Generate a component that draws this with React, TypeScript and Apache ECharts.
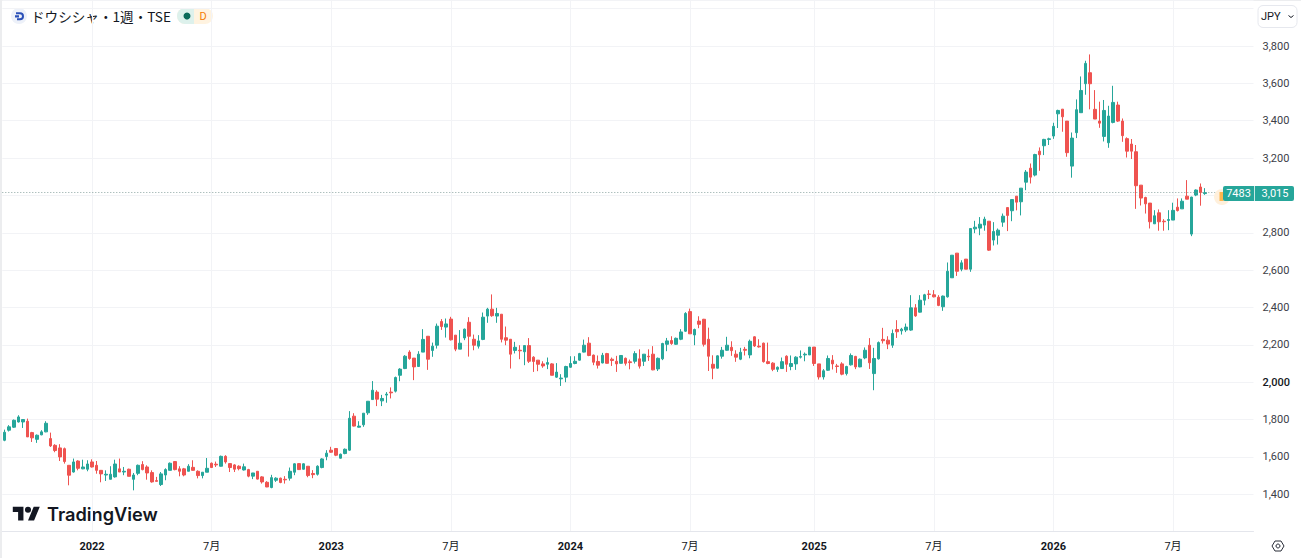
import React, { useEffect, useRef } from "react";
import * as echarts from "echarts";

// Each candle: [open, close, low, high]
const candles2021 = [
  [1689,1732,1684,1746],[1743,1761,1736,1770],[1759,1796,1755,1800],[1787,1814,1784,1823],[1787,1800,1755,1800],
  [1791,1707,1707,1805],[1730,1702,1680,1734],[1694,1716,1675,1720],[1718,1734,1716,1743],[1734,1780,1732,1791],
  [1698,1659,1653,1730],[1662,1634,1625,1668],[1648,1600,1578,1668],[1644,1575,1564,1650],[1555,1502,1448,1555],
  [1519,1573,1516,1591],[1578,1539,1528,1582],[1536,1546,1534,1585],[1534,1562,1523,1582],
];
const candles2022 = [
  [1573,1546,1543,1587],[1555,1528,1510,1578],[1528,1509,1464,1528],[1503,1507,1471,1528],[1480,1507,1480,1550],
  [1493,1562,1489,1585],[1536,1519,1519,1591],[1519,1523,1502,1546],[1534,1496,1496,1537],[1480,1503,1421,1514],
  [1512,1555,1502,1559],[1559,1532,1528,1577],[1546,1514,1478,1555],[1516,1466,1462,1528],[1473,1469,1468,1493],
  [1452,1509,1444,1519],[1503,1532,1475,1539],[1528,1566,1528,1570],[1575,1532,1528,1578],[1536,1523,1496,1550],
  [1536,1503,1496,1541],[1523,1550,1523,1561],[1544,1528,1527,1582],[1523,1500,1485,1528],[1500,1518,1485,1519],
  [1518,1539,1518,1594],[1566,1543,1541,1570],[1561,1557,1546,1575],[1550,1603,1548,1607],[1603,1573,1564,1609],
  [1564,1543,1519,1564],[1557,1534,1519,1561],[1550,1537,1528,1555],[1530,1547,1527,1564],[1532,1497,1491,1536],
  [1497,1514,1481,1514],[1523,1481,1479,1523],[1493,1466,1457,1497],[1464,1439,1438,1470],[1436,1489,1432,1504],
  [1475,1486,1466,1491],[1486,1463,1459,1489],[1480,1477,1457,1497],[1486,1523,1473,1543],[1518,1563,1502,1566],
  [1564,1532,1530,1566],[1534,1563,1532,1566],[1550,1500,1491,1550],[1511,1505,1486,1529],[1507,1550,1500,1555],
  [1543,1589,1539,1593],[1602,1620,1582,1636],
];
const candles2023 = [
  [1636,1625,1622,1654],[1645,1609,1604,1647],[1593,1614,1591,1618],[1618,1641,1614,1645],[1636,1807,1632,1845],
  [1818,1765,1763,1834],[1759,1765,1757,1791],[1772,1834,1761,1834],[1836,1898,1825,1898],[1907,1957,1907,2006],
  [1947,1909,1872,1957],[1900,1913,1872,1932],[1931,1936,1890,1947],[1947,1943,1913,1972],[1952,2025,1945,2030],
  [2037,2070,2005,2075],[2073,2139,2070,2145],[2161,2127,2120,2171],[2129,2082,2011,2129],[2084,2150,2082,2166],
  [2161,2229,2161,2284],[2246,2123,2066,2246],[2170,2193,2136,2212],[2198,2300,2180,2314],[2325,2298,2280,2338],
  [2295,2312,2239,2341],[2338,2227,2223,2350],[2252,2177,2166,2252],[2177,2209,2177,2279],[2237,2284,2225,2287],
  [2321,2246,2137,2348],[2230,2198,2171,2255],[2193,2221,2180,2252],[2229,2348,2225,2373],[2354,2391,2318,2398],
  [2391,2356,2350,2470],[2354,2368,2318,2398],[2364,2230,2213,2364],[2238,2225,2198,2298],[2230,2150,2073,2230],
  [2170,2187,2154,2216],[2171,2168,2123,2198],[2163,2196,2091,2198],[2196,2112,2103,2236],[2134,2111,2055,2139],
  [2118,2096,2059,2118],[2098,2087,2077,2112],[2096,2105,2070,2132],[2098,2037,2037,2102],[2027,2054,2023,2102],
  [2018,2022,1980,2043],[2027,2084,2000,2088],
];
const candles2024 = [
  [2080,2100,2077,2139],[2100,2112,2096,2139],[2118,2153,2116,2157],[2161,2198,2159,2228],[2209,2143,2139,2241],
  [2145,2107,2091,2148],[2111,2091,2073,2143],[2103,2144,2101,2157],[2153,2101,2100,2157],[2123,2116,2087,2132],
  [2112,2098,2055,2141],[2101,2143,2100,2144],[2128,2101,2089,2132],[2109,2105,2069,2121],[2112,2153,2100,2166],
  [2125,2086,2073,2176],[2112,2150,2087,2150],[2139,2136,2114,2176],[2150,2066,2064,2193],[2071,2128,2060,2132],
  [2125,2207,2118,2211],[2203,2221,2166,2237],[2223,2207,2200,2246],[2203,2235,2200,2239],[2230,2269,2225,2284],
  [2273,2368,2269,2375],[2378,2259,2259,2394],[2253,2282,2198,2287],[2327,2310,2289,2353],[2337,2203,2191,2339],
  [2230,2139,2060,2292],[2096,2075,2016,2144],[2075,2141,2073,2144],[2139,2171,2126,2189],[2171,2198,2168,2243],
  [2187,2169,2141,2219],[2150,2134,2109,2171],[2123,2160,2118,2184],[2176,2171,2143,2189],[2146,2219,2128,2228],
  [2243,2194,2189,2246],[2193,2189,2185,2230],[2209,2110,2105,2212],[2110,2100,2096,2212],[2102,2069,2059,2107],
  [2069,2080,2055,2084],[2073,2110,2071,2132],[2139,2096,2055,2144],[2084,2100,2064,2143],[2098,2134,2066,2139],
  [2134,2137,2127,2170],[2146,2150,2112,2159],[2146,2188,2146,2188],
];
const candles2025 = [
  [2188,2100,2087,2188],[2098,2028,2014,2098],[2028,2061,2014,2070],[2064,2127,2061,2143],[2118,2098,2068,2145],
  [2087,2084,2050,2098],[2098,2043,2037,2107],[2046,2084,2036,2088],[2093,2143,2089,2154],[2138,2082,2070,2141],
  [2082,2123,2080,2127],[2130,2171,2123,2186],[2198,2104,2071,2236],[2046,2127,1957,2184],[2125,2212,2121,2218],
  [2229,2222,2207,2291],[2225,2204,2177,2246],[2198,2261,2184,2282],[2282,2270,2237,2332],[2275,2284,2255,2291],
  [2279,2295,2268,2314],[2279,2398,2275,2466],[2398,2355,2350,2418],[2375,2439,2373,2466],[2439,2468,2412,2473],
  [2472,2470,2445,2493],[2468,2457,2454,2493],[2455,2411,2407,2466],[2404,2461,2382,2464],[2457,2594,2453,2641],
  [2559,2680,2559,2680],[2691,2594,2569,2691],[2605,2639,2594,2653],[2659,2605,2605,2659],[2605,2823,2591,2823],
  [2821,2830,2798,2864],[2825,2846,2787,2884],[2841,2873,2811,2886],[2862,2707,2703,2862],[2761,2807,2732,2857],
  [2787,2814,2737,2823],[2857,2889,2832,2903],[2935,2893,2809,2935],[2918,2978,2862,2978],[2996,2964,2920,2996],
  [2966,3039,2893,3039],[3071,3125,3028,3136],[3146,3098,3064,3171],[3109,3219,3102,3223],[3237,3218,3132,3257],
  [3266,3300,3216,3303],[3300,3303,3270,3309],
];
const candles2026 = [
  [3318,3370,3303,3389],[3437,3455,3361,3459],[3462,3421,3341,3462],[3398,3229,3207,3398],[3157,3307,3095,3337],
  [3336,3459,3307,3514],[3443,3562,3443,3637],[3598,3707,3539,3721],[3657,3598,3461,3755],[3461,3409,3409,3564],
  [3398,3387,3362,3502],[3316,3455,3289,3511],[3282,3425,3255,3480],[3391,3498,3386,3587],[3484,3398,3393,3502],
  [3398,3320,3287,3412],[3304,3237,3203,3311],[3275,3237,3195,3302],[3234,3052,2928,3270],[3055,2986,2946,3055],
  [2989,2955,2903,2993],[2959,2859,2823,2959],[2848,2891,2848,2921],[2907,2859,2811,2925],[2862,2859,2811,2873],
  [2866,2871,2814,2921],[2868,2920,2868,2961],[2937,2919,2914,2984],[2928,2969,2928,2984],[2996,2980,2980,3082],
  [2793,2991,2782,2993],[3002,3029,2996,3032],[3045,3016,2945,3064],[3010,3015,3003,3039],
];
const candles = [...candles2021, ...candles2022, ...candles2023, ...candles2024, ...candles2025, ...candles2026];

const SLOTS = 272;
const tickIndexes = [19, 45, 71, 97, 123, 149, 176, 202, 228, 254];
const tickLabels = ["2022", "7月", "2023", "7月", "2024", "7月", "2025", "7月", "2026", "7月"];
const lastPrice = 3015;
const symbolCode = "7483";
const titleText = "ドウシシャ・1週・TSE";

const UP = "#26A69A";
const DOWN = "#EF5350";
const GRID = "#F2F3F6";
const TEXT = "#131722";
const FONT = "Roboto, 'Noto Sans CJK JP', sans-serif";

const categories = Array.from({ length: SLOTS }, (_, i) =>
  new Date(Date.UTC(2021, 7, 23 + i * 7)).toISOString().slice(0, 10)
);
const isTick = (i: number) => tickIndexes.includes(i);

echarts.graphic.registerShape(
  "tvLogo",
  echarts.graphic.extendPath("M14 22H7V11H0V4h14v18zM28 22h-8l7.5-18h8L28 22zM20 4a4 4 0 1 1 0 8a4 4 0 1 1 0-8z", {})
);
echarts.graphic.registerShape(
  "dsLogo",
  echarts.graphic.extendPath("M1 0h4a4 4 0 0 1 0 8h-3v-2h3a2 2 0 0 0 0-4h-4zM0 3h4v2.2h-4z", {})
);

export default function App() {
  const ref = useRef<HTMLDivElement>(null);
  useEffect(() => {
    document.body.style.margin = "0";
    document.body.style.background = "#fff";
    const chart = echarts.init(ref.current!, undefined, { renderer: "svg" });
    chart.setOption({
      animation: false,
      backgroundColor: "#ffffff",
      textStyle: { fontFamily: FONT },
      grid: { left: 2.3, top: 0, width: 1251.2, height: 531.6, containLabel: false },
      xAxis: {
        type: "category",
        data: categories,
        boundaryGap: true,
        axisLine: { show: true, lineStyle: { color: "#E4E6EC", width: 1 } },
        axisTick: { show: false },
        splitLine: { show: true, interval: (i: number) => isTick(i), alignWithLabel: true, lineStyle: { color: GRID, width: 1 } },
        axisLabel: {
          interval: (i: number) => isTick(i),
          margin: 9,
          color: TEXT,
          fontFamily: FONT,
          fontSize: 11,
          hideOverlap: false,
          formatter: (_: string, i: number) => {
            const label = tickLabels[tickIndexes.indexOf(i)] ?? "";
            return /^\d+$/.test(label) ? `{y|${label}}` : label;
          },
          rich: { y: { fontWeight: 700, fontSize: 11, color: TEXT, fontFamily: FONT } },
        },
      },
      yAxis: {
        type: "value",
        position: "right",
        min: 1200,
        max: 4046.4,
        interval: 200,
        axisLine: { show: false },
        axisTick: { show: false },
        splitLine: { show: true, lineStyle: { color: GRID, width: 1 } },
        axisLabel: {
          margin: 9,
          color: "#3d4048",
          fontFamily: FONT,
          fontSize: 11,
          showMinLabel: false,
          showMaxLabel: false,
          formatter: (v: number) => {
            if (v < 1400 || v > 3800 || v === 3000) return "";
            const s = v.toLocaleString("en-US");
            return v === 2000 ? `{b|${s}}` : s;
          },
          rich: { b: { fontWeight: 500, fontSize: 11, color: TEXT, fontFamily: FONT } },
        },
      },
      series: [
        {
          type: "candlestick",
          data: candles,
          barWidth: 3,
          silent: true,
          itemStyle: { color: UP, color0: DOWN, borderColor: UP, borderColor0: DOWN, borderWidth: 1 },
          markLine: {
            silent: true,
            symbol: "none",
            label: { show: false },
            lineStyle: { color: "#6F8F8B", type: [1, 2], width: 1, opacity: 0.8 },
            data: [{ yAxis: lastPrice }],
          },
        },
      ],
      graphic: [
        { type: "rect", silent: true, shape: { x: 0, y: 0, width: 2, height: 558 }, style: { fill: "#ECEDEF" } },
        { type: "rect", silent: true, shape: { x: 0, y: 0, width: 1301, height: 1 }, style: { fill: "#ECEDEF" } },
        // header
        { type: "circle", shape: { cx: 19, cy: 16, r: 8 }, style: { fill: "#EDF1F9" } },
        { type: "dsLogo", x: 15, y: 12.2, scaleX: 1, scaleY: 1, style: { fill: "#2B50B8" } },
        { type: "text", x: 31, y: 16, style: { text: titleText, font: `13.6px 'Noto Sans CJK JP', sans-serif`, fill: TEXT, verticalAlign: "middle" } },
        { type: "rect", shape: { x: 177, y: 8, width: 36, height: 16, r: 8 }, style: { fill: "#FFF3E0" } },
        { type: "rect", shape: { x: 177, y: 8, width: 17, height: 16, r: [8, 0, 0, 8] }, style: { fill: "#DDF1EC" } },
        { type: "circle", shape: { cx: 187, cy: 16, r: 3.5 }, style: { fill: "#0B6B5B" } },
        { type: "text", x: 203, y: 16, style: { text: "D", font: `11px ${FONT}`, fill: "#F57C00", align: "center", verticalAlign: "middle" } },
        // currency button
        { type: "rect", shape: { x: 1258, y: 5.5, width: 39, height: 22, r: 5 }, style: { fill: "#fff", stroke: "#E6E8EE", lineWidth: 1 } },
        { type: "text", x: 1261, y: 16.5, style: { text: "JPY", font: `11px ${FONT}`, fill: TEXT, verticalAlign: "middle" } },
        { type: "polyline", shape: { points: [[1288.5, 15.5], [1291, 17.5], [1293.5, 15.5]] }, style: { stroke: TEXT, lineWidth: 1, fill: "none" } },
        // last-price labels, above the price line
        { type: "circle", z: 20, shape: { cx: 1222, cy: 197, r: 8 }, style: { fill: "#FFF0DC" } },
        { type: "rect", z: 21, shape: { x: 1219.5, y: 192, width: 4, height: 9 }, style: { fill: "#FFB74D" } },
        { type: "rect", z: 22, shape: { x: 1223, y: 186, width: 71, height: 15, r: 2 }, style: { fill: UP } },
        { type: "rect", z: 23, shape: { x: 1254, y: 186, width: 1, height: 15 }, style: { fill: "#C9E9E5" } },
        { type: "text", z: 24, x: 1238.5, y: 193.5, style: { text: symbolCode, font: `11px ${FONT}`, fill: "#fff", align: "center", verticalAlign: "middle" } },
        { type: "text", z: 24, x: 1275, y: 193.5, style: { text: lastPrice.toLocaleString("en-US"), font: `11px ${FONT}`, fill: "#fff", align: "center", verticalAlign: "middle" } },
        // brand
        { type: "tvLogo", x: 12.8, y: 503.7, scaleX: 0.76, scaleY: 0.76, style: { fill: "#131722" } },
        { type: "text", x: 47, y: 514, style: { text: "TradingView", font: `600 18.2px Inter, sans-serif`, fill: "#131722", verticalAlign: "middle" } },
        // settings icon
        { type: "polygon", shape: { points: [[1272, 546], [1275, 541], [1281, 541], [1284, 546], [1281, 551], [1275, 551]] }, style: { fill: "none", stroke: "#2A2E39", lineWidth: 1 } },
        { type: "circle", shape: { cx: 1278, cy: 546, r: 2 }, style: { fill: "none", stroke: "#2A2E39", lineWidth: 1 } },
      ],
    });
    return () => chart.dispose();
  }, []);
  return <div ref={ref} style={{ width: 1301, height: 558 }} />;
}
